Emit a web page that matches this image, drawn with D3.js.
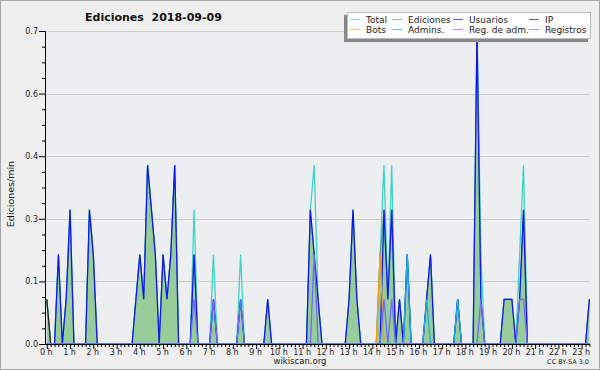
<!DOCTYPE html>
<html>
<head>
<meta charset="utf-8">
<script src="https://cdn.jsdelivr.net/npm/d3@7"></script>
<style>
body { margin: 0; background: #fff; }
svg { display: block; }
text { font-family: "DejaVu Sans", sans-serif; }
</style>
</head>
<body>
<svg id="chart" width="600" height="370"></svg>
<script>
// 10-minute bins from 0:00, value = edits per minute
const binCount = 141;
const hourLabels = d3.range(24).map(h => h + ' h');
const yTicks = [0, 0.14, 0.28, 0.42, 0.56, 0.7];
const yTickLabels = ['0.0', '0.1', '0.3', '0.4', '0.6', '0.7'];

// [bin, value] pairs; bins not listed are 0
const total = [[0,0.1],[3,0.2],[5,0.1],[6,0.3],[11,0.3],[12,0.2],[23,0.1],[24,0.2],[25,0.1],[26,0.4],[27,0.3],[28,0.2],
  [30,0.2],[31,0.1],[32,0.2],[33,0.4],[38,0.3],[43,0.2],[50,0.2],[57,0.1],[68,0.3],[69,0.4],[70,0.1],
  [78,0.1],[79,0.3],[80,0.1],[86,0.2],[87,0.4],[88,0.1],[89,0.4],[91,0.1],[93,0.2],[98,0.1],[99,0.2],
  [106,0.1],[111,0.7],[112,0.2],[118,0.1],[119,0.1],[120,0.1],[122,0.2],[123,0.4],[140,0.1]];
const ediciones = [[0,0.1],[3,0.2],[5,0.1],[6,0.3],[11,0.3],[12,0.2],[23,0.1],[24,0.2],[25,0.1],[26,0.4],[27,0.3],[28,0.2],
  [30,0.2],[31,0.1],[32,0.2],[33,0.4],[38,0.2],[43,0.1],[50,0.1],[57,0.1],[68,0.3],[69,0.2],[70,0.1],
  [78,0.1],[79,0.3],[80,0.1],[86,0.2],[87,0.3],[88,0.1],[89,0.3],[91,0.1],[93,0.2],[98,0.1],[99,0.2],
  [106,0.1],[111,0.7],[112,0.1],[118,0.1],[119,0.1],[120,0.1],[122,0.1],[123,0.3],[140,0.1]];
const usuarios = [[3,0.2],[5,0.1],[6,0.3],[11,0.3],[12,0.2],[23,0.1],[24,0.2],[25,0.1],[26,0.4],[27,0.3],[28,0.2],
  [30,0.2],[31,0.1],[32,0.2],[33,0.4],[38,0.2],[43,0.1],[50,0.1],[57,0.1],[68,0.3],[69,0.2],[70,0.1],
  [78,0.1],[79,0.3],[80,0.1],[87,0.3],[88,0.1],[89,0.3],[91,0.1],[93,0.2],[98,0.1],[99,0.2],
  [106,0.1],[111,0.7],[112,0.1],[118,0.1],[119,0.1],[120,0.1],[122,0.1],[123,0.3],[140,0.1]];
const ip = [[0,0.1]];
const bots = [[86,0.2]];
const admins = [[93,0.2],[98,0.1],[106,0.1]];
const regAdm = [];
const registros = [[38,0.1],[43,0.1],[50,0.1],[69,0.2],[87,0.1],[89,0.1],[112,0.1],[122,0.1],[123,0.1]];

const series = [
  { name: 'Total', data: total, color: '#3fd3c6' },
  { name: 'Ediciones', data: ediciones, color: '#5aa86a', fill: '#98cc9a' },
  { name: 'Usuarios', data: usuarios, color: '#1018f0' },
  { name: 'IP', data: ip, color: '#222222' },
  { name: 'Bots', data: bots, color: '#ff9a1a' },
  { name: 'Admins.', data: admins, color: '#22aadd' },
  { name: 'Reg. de adm.', data: regAdm, color: '#cc44dd' },
  { name: 'Registros', data: registros, color: '#6c6cf4' }
];
const legendOrder = ['Total', 'Ediciones', 'Usuarios', 'IP', 'Bots', 'Admins.', 'Reg. de adm.', 'Registros'];

function expand(pairs) {
  const out = new Array(binCount).fill(0);
  pairs.forEach(([i, v]) => { out[i] = v; });
  return out;
}

const svg = d3.select('#chart');
const W = 600, H = 370;
const plot = { left: 45, right: 590, top: 31, bottom: 344 };

svg.append('rect').attr('width', W).attr('height', H).attr('fill', '#efefef');
svg.append('rect').attr('x', 0.5).attr('y', 0.5).attr('width', W - 1).attr('height', H - 1)
  .attr('fill', 'none').attr('stroke', '#a8a8a8');
svg.append('rect').attr('x', plot.left).attr('y', plot.top)
  .attr('width', plot.right - plot.left).attr('height', plot.bottom - plot.top).attr('fill', '#eceef0');

const x = d3.scaleLinear().domain([0, binCount - 1]).range([46.8, 589.4]);
const y = d3.scaleLinear().domain([0, 0.7]).range([plot.bottom, plot.top]);

// grid
svg.append('g').selectAll('line').data(yTicks.slice(1)).enter().append('line')
  .attr('x1', plot.left).attr('x2', plot.right)
  .attr('y1', d => Math.round(y(d)) + 0.5).attr('y2', d => Math.round(y(d)) + 0.5)
  .attr('stroke', '#cccccc');

// series
svg.append('defs').append('clipPath').attr('id', 'clip')
  .append('rect').attr('x', plot.left).attr('y', plot.top - 2)
  .attr('width', plot.right - plot.left).attr('height', plot.bottom - plot.top + 2);
const gSeries = svg.append('g').attr('clip-path', 'url(#clip)');
const line = d3.line().x((d, i) => x(i)).y(d => y(d));
const area = d3.area().x((d, i) => x(i)).y0(y(0)).y1(d => y(d));

series.forEach(s => {
  const vals = expand(s.data);
  if (s.fill) {
    gSeries.append('path').datum(vals).attr('d', area).attr('fill', s.fill);
    gSeries.append('path').datum(vals).attr('d', line).attr('fill', 'none')
      .attr('stroke', s.color).attr('stroke-width', 1);
  } else if (s.data.length) {
    gSeries.append('path').datum(vals).attr('d', line).attr('fill', 'none')
      .attr('stroke', s.color).attr('stroke-width', 1.3);
  }
});

// y axis
const yAxis = d3.axisLeft(y).tickValues(yTicks).tickSize(6).tickPadding(1)
  .tickFormat((d, i) => yTickLabels[i]);
const gy = svg.append('g').attr('transform', `translate(${plot.left},0)`).call(yAxis);
const yMinor = d3.range(0, 0.7001, 0.035).filter((d, i) => i % 4 !== 0);
svg.append('g').attr('transform', `translate(${plot.left},0)`)
  .call(d3.axisLeft(y).tickValues(yMinor).tickSize(3).tickFormat(''))
  .select('.domain').remove();

// x axis
const xAxis = d3.axisBottom(x).tickValues(d3.range(0, binCount)).tickSize(3).tickPadding(2)
  .tickFormat(d => d % 6 === 0 ? hourLabels[d / 6] : '');
const gx = svg.append('g').attr('transform', `translate(0,${plot.bottom})`).call(xAxis);
gx.select('.domain').attr('d', `M${plot.left},0.5H${plot.right}`);
gx.selectAll('.tick').filter(d => d % 6 === 0).select('line').attr('y2', 5);

[gy, gx].forEach(g => {
  g.select('.domain').attr('stroke', '#000');
  g.selectAll('.tick line').attr('stroke', '#000');
  g.selectAll('.tick text').attr('font-family', '"DejaVu Sans", sans-serif')
    .attr('font-size', 8).attr('fill', '#222');
});
gx.selectAll('.tick text').attr('dx', -1);

// titles
svg.append('text').attr('x', 85).attr('y', 21).attr('font-size', 11).attr('font-weight', 'bold')
  .attr('fill', '#111').attr('xml:space', 'preserve').text('Ediciones  2018-09-09');
svg.append('text').attr('transform', 'translate(14,194) rotate(-90)').attr('text-anchor', 'middle')
  .attr('font-family', '"DejaVu Sans Mono", monospace').attr('font-size', 9.5).attr('fill', '#111')
  .text('Ediciones/min');
svg.append('text').attr('x', 300).attr('y', 364).attr('text-anchor', 'middle')
  .attr('font-size', 8.5).attr('fill', '#222').text('wikiscan.org');
svg.append('text').attr('x', 589).attr('y', 364).attr('text-anchor', 'end')
  .attr('font-size', 6.5).attr('fill', '#222').text('CC BY-SA 3.0');

// legend
const lg = svg.append('g');
lg.append('rect').attr('x', 344).attr('y', 15).attr('width', 244).attr('height', 27).attr('fill', '#888');
lg.append('rect').attr('x', 347.5).attr('y', 12.5).attr('width', 243).attr('height', 26)
  .attr('fill', '#fff').attr('stroke', '#bbb');
const colX = [350, 392, 453, 529];
legendOrder.forEach((name, k) => {
  const s = series.find(d => d.name === name);
  const cx = colX[k % 4], cy = k < 4 ? 19 : 29;
  lg.append('line').attr('x1', cx).attr('x2', cx + 10).attr('y1', cy + 0.5).attr('y2', cy + 0.5)
    .attr('stroke', s.color).attr('stroke-opacity', 0.7);
  lg.append('text').attr('x', cx + 16).attr('y', cy + 3.5).attr('font-size', 9).attr('fill', '#222').text(name);
});
</script>
</body>
</html>
